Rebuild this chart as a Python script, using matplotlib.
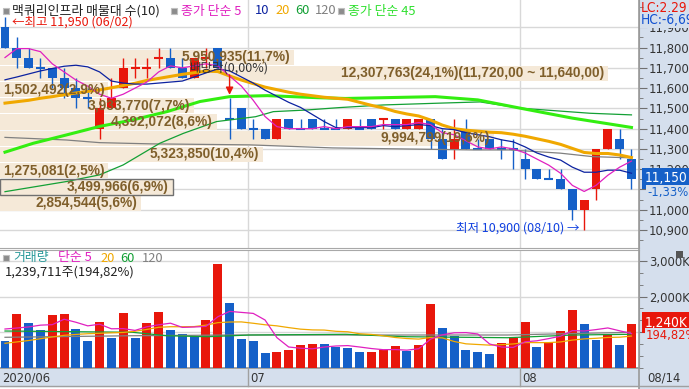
import numpy as np
import pandas as pd
import matplotlib
matplotlib.use('Agg')
import matplotlib.pyplot as plt
from matplotlib import font_manager
from matplotlib.font_manager import FontProperties
from matplotlib.patches import Rectangle
from matplotlib.lines import Line2D
from matplotlib.ticker import FixedLocator, MultipleLocator, FuncFormatter
from matplotlib.transforms import blended_transform_factory

###########################################################################
# 일봉 데이터 2020/06/02 ~ 2020/08/14 (맥쿼리인프라)
opens = [11900, 11800, 11750, 11700, 11700, 11650, 11600, 11550, 11400, 11500,
         11600, 11700, 11700, 11750, 11750, 11700, 11650, 11750, 11800, 11450,
         11500, 11400, 11400, 11350, 11450, 11400, 11450, 11400, 11400, 11400,
         11400, 11450, 11450, 11450, 11400, 11400, 11450, 11350, 11300, 11400,
         11300, 11350, 11300, 11300, 11250, 11200, 11150, 11150, 11100, 11000,
         11100, 11300, 11350, 11250]
highs = [11950, 11850, 11800, 11750, 11700, 11700, 11650, 11600, 11550, 11650,
         11750, 11750, 11750, 11800, 11800, 11750, 11750, 11800, 11800, 11550,
         11500, 11450, 11400, 11450, 11450, 11450, 11450, 11450, 11450, 11450,
         11450, 11450, 11450, 11450, 11450, 11450, 11450, 11400, 11450, 11450,
         11350, 11350, 11350, 11350, 11300, 11200, 11200, 11200, 11100, 11050,
         11300, 11400, 11400, 11300]
lows = [11800, 11700, 11700, 11650, 11600, 11550, 11500, 11500, 11350, 11500,
        11600, 11650, 11650, 11700, 11700, 11650, 11650, 11700, 11700, 11350,
        11400, 11350, 11350, 11350, 11400, 11400, 11400, 11400, 11400, 11400,
        11400, 11400, 11400, 11400, 11400, 11400, 11300, 11250, 11250, 11300,
        11300, 11300, 11250, 11200, 11150, 11150, 11150, 11100, 10950, 10900,
        11050, 11300, 11250, 11100]
closes = [11800, 11750, 11700, 11700, 11650, 11600, 11550, 11550, 11500, 11550,
          11700, 11700, 11700, 11750, 11700, 11650, 11750, 11750, 11700, 11450,
          11400, 11400, 11350, 11450, 11400, 11400, 11400, 11400, 11400, 11450,
          11400, 11400, 11450, 11400, 11450, 11450, 11350, 11250, 11350, 11300,
          11300, 11300, 11300, 11300, 11200, 11150, 11150, 11100, 11000, 11050,
          11300, 11400, 11300, 11150]
doji_red = [11, 12, 13, 17, 32]   # 보합인데 빨간 캔들

# 거래량 (천주)
volumes = [756, 1513, 1261, 1056, 1485, 1513, 1092, 756, 1289, 840,
           1541, 840, 1261, 1569, 1064, 952, 896, 1345, 2913, 1821,
           812, 756, 420, 448, 504, 644, 672, 665, 597, 560,
           448, 455, 504, 616, 476, 644, 1793, 1120, 896, 504,
           448, 392, 700, 840, 1289, 588, 700, 1036, 1625, 1232,
           784, 933, 636, 1240]
last_volume = 1239711
volume_ratio = '194,82'

month_starts = [21, 44]
month_labels = ['07', '08']
first_label = '2020/06'
last_date = '08/14'
stock_name = '맥쿼리인프라'

# 이평선: 6월 이전 데이터가 필요한 앞부분은 그림에서 읽은 값
ma5_head = [11751, 11795, 11795, 11780]
ma10_head = [11641, 11655, 11670, 11685, 11697, 11708, 11713, 11705, 11680]
ma20_head = [11526, 11533, 11540, 11550, 11558, 11567, 11576, 11584, 11591, 11602,
             11613, 11624, 11638, 11648, 11658, 11668, 11676, 11684, 11682]
ma45_x = [0, 2.4, 5.2, 8, 10.8, 13.7, 16.5, 19, 22.2, 26.4, 28.8, 36.4, 40, 43.6, 48, 53]
ma45_v = [11284, 11328, 11369, 11411, 11443, 11484, 11534, 11558, 11563, 11553,
          11549, 11558, 11542, 11501, 11452, 11406]
ma60_x = [0, 5.2, 8, 10, 13.1, 15.1, 17.9, 21.2, 22.7, 25.5, 28.3, 32, 36.8, 40.2, 43.6, 49.5, 53]
ma60_v = [11089, 11139, 11172, 11221, 11328, 11377, 11435, 11459, 11484, 11492,
          11504, 11517, 11526, 11532, 11501, 11476, 11468]
ma120_x = [0, 5.2, 8, 12.3, 20.7, 27.7, 39.6, 42.7, 47, 49.7, 52.9]
ma120_v = [11357, 11344, 11331, 11325, 11320, 11305, 11295, 11295, 11279, 11262, 11256]

vma5_head = [1092, 1120, 1150, 1200]
vma20_head = [692, 730, 770, 820, 870, 915, 940, 960, 972, 985,
              995, 1030, 1080, 1140, 1156, 1156, 1160, 1200, 1270]
vma60_x = [0, 10.8, 13.7, 17.1, 20.7, 28.8, 34, 42.5, 48.1, 52.9]
vma60_v = [1036, 1000, 904, 876, 924, 944, 876, 848, 924, 944]
vma120_x = [0, 10.8, 19.3, 28.8, 42.5, 52.9]
vma120_v = [860, 904, 924, 924, 924, 1000]

# 매물대 (10개 구간, 80원 단위)
band_tops = [11800, 11720, 11640, 11560, 11480, 11400, 11320, 11240, 11160, 11080]
band_vols = [5950935, 12307763, 1502492, 3933770, 4392072, 9994799, 5323850,
             1275081, 3499966, 2854544]
band_pcts = ['11,7', '24,1', '2,9', '7,7', '8,6', '19,6', '10,4', '2,5', '6,9', '5,6']
band_step = 80

###########################################################################
RED = '#e8170b'
BLUE = '#1560c8'
MAG = '#e020c0'
NAVY = '#0c22a0'
ORANGE = '#f0a800'
DGREEN = '#13a035'
GRAYL = '#808080'
LIME = '#33ee11'
BEIGE = '#f5e9d8'
BROWN = '#7f5f2b'
GRID = '#d8d8d8'
PANEL = '#d5dfed'
TEAL = '#2a9a9a'
KR = ['Noto Sans CJK KR', 'DejaVu Sans']

# 숫자용 좁은 글꼴이 있으면 사용
narrow = None
for f in font_manager.fontManager.ttflist:
    if f.style != 'normal' or f.weight not in (400, 'normal', 'regular'):
        continue
    if 'Narrow' in f.name or 'Condensed' in f.name or \
            (f.name == 'DejaVu Sans' and f.stretch == 'condensed'):
        narrow = f.fname
        break
if narrow:
    AX_SIZE = 9.3
    NUMFP = lambda sz: FontProperties(fname=narrow, size=sz)
else:
    AX_SIZE = 7.8
    NUMFP = lambda sz: FontProperties(family='Liberation Sans', size=sz)
LBL = FontProperties(family='Liberation Sans', weight='bold', size=9.9)

W, H = 689, 389
SLOT = 11.82                   # 캔들 간격(px)
X0 = -5 / SLOT
X1 = (639 - 5) / SLOT
P_TOP, P_BOT = 12035, 10811
V_TOP = 3305

def fx(px):
    return px / W

def fy(py):
    return 1 - py / H

fig = plt.figure(figsize=(W / 100, H / 100), dpi=100)
fig.patch.set_facecolor('white')
# 오른쪽 축 패널, 날짜 띠
fig.patches.append(Rectangle((fx(639), 0), 1 - fx(639), 1, transform=fig.transFigure,
                             color=PANEL, zorder=-2))
fig.patches.append(Rectangle((0, fy(386)), 1, (386 - 369) / H, transform=fig.transFigure,
                             color=PANEL, zorder=-2))

ax = fig.add_axes([0, fy(248), fx(639), 248 / H])
axv = fig.add_axes([0, fy(368), fx(639), (368 - 250) / H])

n = len(closes)
idx = np.arange(n)
o = np.array(opens, float)
c = np.array(closes, float)
hi = np.array(highs, float)
lo = np.array(lows, float)

cand_col = []
for i in range(n):
    if c[i] > o[i] or (c[i] == o[i] and i in doji_red):
        cand_col.append(RED)
    else:
        cand_col.append(BLUE)
cand_col = np.array(cand_col)

cs = pd.Series(closes, dtype=float)
ma5 = cs.rolling(5).mean().to_numpy(); ma5[:4] = ma5_head
ma10 = cs.rolling(10).mean().to_numpy(); ma10[:9] = ma10_head
ma20 = cs.rolling(20).mean().to_numpy(); ma20[:19] = ma20_head

vs = pd.Series(volumes, dtype=float)
vma5 = vs.rolling(5).mean().to_numpy(); vma5[:4] = vma5_head
vma20 = vs.rolling(20).mean().to_numpy(); vma20[:19] = vma20_head
vol_col = [BLUE] + [RED if volumes[i] > volumes[i - 1] else BLUE for i in range(1, n)]

#################### 가격 영역
ax.set_xlim(X0, X1)
ax.set_ylim(P_BOT, P_TOP)
ax.set_axisbelow(True)
ax.grid(axis='y', which='major', color=GRID, lw=1)
for m in month_starts:
    ax.axvline(m - 0.4, color=GRID, lw=1, zorder=0.5)

# 매물대 막대
band_rects = []
band_texts = []
vmax = max(band_vols)
for k, (top, vol, pct) in enumerate(zip(band_tops, band_vols, band_pcts)):
    y0 = top - band_step - 5
    y1 = top - 10
    wpx = vol / vmax * 608
    ax.add_patch(Rectangle((X0, y0), wpx / SLOT, y1 - y0, color=BEIGE, lw=0, zorder=1))
    s = f'{vol:,}({pct}%)'
    if vol == vmax:
        s += f'({top:,},00 ~ {top - band_step:,},00)'
    t = ax.text(X0 + (wpx - 4) / SLOT, (y0 + y1) / 2, s, ha='right', va='center',
                fontproperties=LBL, color=BROWN, zorder=6)
    band_rects.append((y0, y1, wpx))
    band_texts.append(t)
    if top - band_step <= closes[-1] < top:
        ax.add_patch(Rectangle((X0, y0), wpx / SLOT, y1 - y0, fill=False,
                               ec='#707070', lw=1, zorder=6))

# 캔들
body = np.abs(c - o)
m = body > 0
ax.vlines(idx, lo, hi, colors=cand_col, lw=1, zorder=3)
ax.bar(idx[m], body[m], bottom=np.minimum(o, c)[m], width=0.76, color=cand_col[m],
       lw=0, zorder=3.1)
d = ~m
ax.hlines(c[d], idx[d] - 0.38, idx[d] + 0.38, colors=cand_col[d], lw=1.5, zorder=3.1)

# 이동평균선
ax.plot(ma120_x, ma120_v, color=GRAYL, lw=0.9, zorder=4)
ax.plot(ma60_x, ma60_v, color=DGREEN, lw=0.9, zorder=4)
ax.plot(ma45_x, ma45_v, color=LIME, lw=2.2, zorder=4)
ax.plot(idx, ma20, color=ORANGE, lw=2.2, zorder=4)
ax.plot(idx, ma10, color=NAVY, lw=0.9, zorder=4.1)
ax.plot(idx, ma5, color=MAG, lw=0.9, zorder=4.2)

# 배당락 표시
ex_i = 19
ax.annotate('', xy=(ex_i, highs[ex_i] + 17), xytext=(ex_i, highs[ex_i] + 115),
            arrowprops=dict(arrowstyle='-|>', color=RED, lw=1, mutation_scale=11,
                            shrinkA=0, shrinkB=0), zorder=5)
ax.text(ex_i, highs[ex_i] + 150, '배당락(0,00%)', ha='center', va='center', family=KR,
        size=9, color='#333333', zorder=6)

# 최고/최저
i_hi = int(np.argmax(hi))
i_lo = int(np.argmin(lo))
ax.annotate(f'←최고 {highs[i_hi]:,} (06/02)', xy=(i_hi, highs[i_hi]), xytext=(7, -5),
            textcoords='offset pixels', ha='left', va='center', family=KR, size=9,
            color=RED, zorder=7)
ax.annotate(f'최저 {lows[i_lo]:,} (08/10) →', xy=(i_lo, lows[i_lo]), xytext=(-5, 2),
            textcoords='offset pixels', ha='right', va='center', family=KR, size=9,
            color='#1040e0', zorder=7)

# 축
for s in ['top', 'left']:
    ax.spines[s].set_visible(False)
ax.spines['right'].set_color('#9a9a9a')
ax.spines['bottom'].set_color('#a8a8a8')
ax.spines['bottom'].set_linewidth(0.8)
ax.tick_params(axis='x', bottom=False, labelbottom=False)
ax.yaxis.set_major_locator(FixedLocator(range(10900, 12000, 100)))
ax.yaxis.set_minor_locator(MultipleLocator(50))
ax.yaxis.set_major_formatter(FuncFormatter(lambda v, p: f'{int(v):,}'))
ax.tick_params(axis='y', which='both', left=False, labelleft=False, right=True,
               labelright=True, direction='out', color='#707070')
ax.tick_params(axis='y', which='major', length=6, pad=1, labelcolor='#333333')
ax.tick_params(axis='y', which='minor', length=3)
for lab in ax.get_yticklabels():
    lab.set_fontproperties(NUMFP(AX_SIZE))

chg = (closes[-1] - closes[-2]) / closes[-2] * 100
ax.annotate(f'{closes[-1]:,}', xy=(1, closes[-1]), xycoords=('axes fraction', 'data'),
            xytext=(6, 1), textcoords='offset pixels', ha='left', va='center',
            fontproperties=NUMFP(AX_SIZE + 0.5), color='white', annotation_clip=False,
            bbox=dict(boxstyle='square,pad=0.25', fc=BLUE, ec='none'), zorder=8)
ax.annotate(f'{chg:.2f}%'.replace('.', ','), xy=(1, closes[-1]),
            xycoords=('axes fraction', 'data'), xytext=(8, -13),
            textcoords='offset pixels', ha='left', va='center', fontproperties=NUMFP(AX_SIZE),
            color=BLUE, annotation_clip=False, zorder=8,
            bbox=dict(boxstyle='square,pad=0.1', fc=PANEL, ec='none'))

#################### 거래량 영역
axv.set_xlim(X0, X1)
axv.set_ylim(0, V_TOP)
axv.set_axisbelow(True)
axv.grid(axis='y', which='major', color=GRID, lw=1)
for m_ in month_starts:
    axv.axvline(m_ - 0.4, color=GRID, lw=1, zorder=0.5)
axv.bar(idx, volumes, width=0.76, color=vol_col, lw=0, zorder=3)
axv.plot(vma120_x, vma120_v, color=GRAYL, lw=0.9, zorder=4)
axv.plot(vma60_x, vma60_v, color=DGREEN, lw=0.9, zorder=4)
axv.plot(idx, vma20, color=ORANGE, lw=0.9, zorder=4)
axv.plot(idx, vma5, color=MAG, lw=0.9, zorder=4)

axv.spines['left'].set_visible(False)
axv.spines['right'].set_color('#9a9a9a')
axv.spines['top'].set_color('#a8a8a8')
axv.spines['top'].set_linewidth(0.8)
axv.spines['bottom'].set_color('#909090')
axv.spines['bottom'].set_linewidth(1.2)
axv.tick_params(axis='x', bottom=False, labelbottom=False)
axv.yaxis.set_major_locator(FixedLocator([1000, 2000, 3000]))
axv.yaxis.set_minor_locator(MultipleLocator(1000 / 3))
axv.yaxis.set_major_formatter(FuncFormatter(lambda v, p: f'{int(v):,}K' if v > 1500 else ''))
axv.tick_params(axis='y', which='both', left=False, labelleft=False, right=True,
                labelright=True, direction='out', color='#707070')
axv.tick_params(axis='y', which='major', length=6, pad=1, labelcolor='#333333')
axv.tick_params(axis='y', which='minor', length=3)
for lab in axv.get_yticklabels():
    lab.set_fontproperties(NUMFP(AX_SIZE))

axv.annotate(f'{round(last_volume / 1000):,}K', xy=(1, volumes[-1]),
             xycoords=('axes fraction', 'data'), xytext=(6, 1), textcoords='offset pixels',
             ha='left', va='center', fontproperties=NUMFP(AX_SIZE + 0.5), color='white',
             annotation_clip=False, bbox=dict(boxstyle='square,pad=0.25', fc=RED, ec='none'),
             zorder=8)
axv.annotate(f'{volume_ratio}%', xy=(1, volumes[-1]), xycoords=('axes fraction', 'data'),
             xytext=(7, -12), textcoords='offset pixels', ha='left', va='center',
             fontproperties=NUMFP(AX_SIZE), color=RED, annotation_clip=False, zorder=8,
             bbox=dict(boxstyle='square,pad=0.1', fc=PANEL, ec='none'))

#################### 헤더
def icon(px, py):
    fig.patches.append(Rectangle((fx(px), fy(py + 3)), 6 / W, 6 / H, transform=fig.transFigure,
                                 fc='#8c8c8c', ec='#c0c0c0', lw=0.8, zorder=10))

icon(3, 11)
fig.text(fx(12), fy(11), f'{stock_name} 매물대 수(10)', family=KR, size=9.3, color='#222222',
         va='center')
icon(171, 11)
for s, xp, col in [('종가 단순 5', 181, MAG), ('10', 255, NAVY), ('20', 275, ORANGE),
                   ('60', 295, DGREEN), ('120', 315, GRAYL)]:
    fig.text(fx(xp), fy(11), s, family=KR, size=9.3, color=col, va='center')
icon(338, 11)
fig.text(fx(348), fy(11), '종가 단순 45', family=KR, size=9.3, color='#2fe02f', va='center')

fig.text(fx(641), fy(8), 'LC:2,29', fontproperties=NUMFP(AX_SIZE + 0.5), color=RED,
         va='center')
fig.text(fx(641), fy(20), 'HC:-6,69', fontproperties=NUMFP(AX_SIZE + 0.5), color='#1050d0',
         va='center', bbox=dict(boxstyle='square,pad=0.05', fc=PANEL, ec='none'))

icon(3, 258)
for s, xp, col in [('거래량', 13, TEAL), ('단순 5', 58, MAG), ('20', 100, ORANGE),
                   ('60', 120, DGREEN), ('120', 142, GRAYL)]:
    fig.text(fx(xp), fy(258), s, family=KR, size=9.3, color=col, va='center')
fig.text(fx(5), fy(272), f'{last_volume:,}주({volume_ratio}%)', family=KR, size=9.3,
         color='#222222', va='center')
fig.patches.append(Rectangle((fx(676), fy(258)), 7 / W, 7 / H, transform=fig.transFigure,
                             fc='#555555', ec='none', zorder=10))

#################### 날짜 띠
tr = blended_transform_factory(axv.transData, fig.transFigure)
axv.text(X0 + 2 / SLOT, fy(378), first_label, transform=tr, fontproperties=NUMFP(AX_SIZE),
         color='#333333', va='center', clip_on=False)
for m_, lab in zip(month_starts, month_labels):
    axv.add_line(Line2D([m_ - 0.4, m_ - 0.4], [fy(386), fy(369)], transform=tr,
                        color='#a0a0a0', lw=1, clip_on=False))
    axv.text(m_ - 0.4 + 2 / SLOT, fy(378), lab, transform=tr, fontproperties=NUMFP(AX_SIZE),
             color='#333333', va='center', clip_on=False)
fig.text(fx(647), fy(378), last_date, fontproperties=NUMFP(AX_SIZE), color='#333333',
         va='center')
fig.add_artist(Line2D([fx(639), fx(639)], [0, 1], transform=fig.transFigure,
                      color='#9a9a9a', lw=1.2))
fig.add_artist(Line2D([0, 1], [fy(386), fy(386)], transform=fig.transFigure,
                      color='#a0a0a0', lw=1))

#################### 매물대 라벨 위치 (막대보다 글자가 길면 왼쪽 정렬)
fig.canvas.draw()
rend = fig.canvas.get_renderer()
for t, (y0, y1, wpx) in zip(band_texts, band_rects):
    bb = t.get_window_extent(rend)
    if bb.x0 < 3:
        t.set_ha('left')
        t.set_x(X0 + 3 / SLOT)
        bb = t.get_window_extent(rend)
        ax.add_patch(Rectangle((X0, y0), (bb.x1 + 3) / SLOT, y1 - y0, color=BEIGE, lw=0,
                               zorder=1))

fig.savefig('out.png', dpi=100)
